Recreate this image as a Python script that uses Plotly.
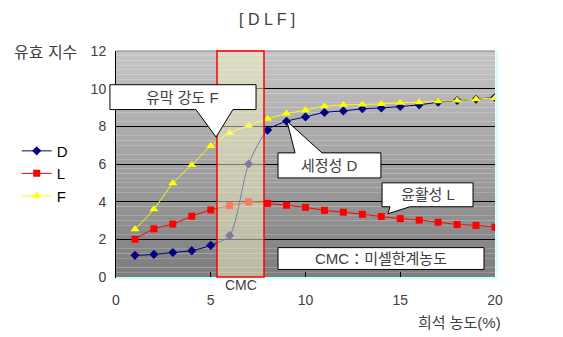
import plotly.graph_objects as go

# ---- data ----
conc = list(range(1, 21))
D_vals = [1.15, 1.2, 1.3, 1.4, 1.68, 2.2, 6.0, 7.8, 8.27, 8.5, 8.74, 8.82, 8.93, 8.98, 9.05, 9.14, 9.28, 9.37, 9.44, 9.54]
L_vals = [2.0, 2.56, 2.81, 3.23, 3.56, 3.79, 3.98, 3.91, 3.81, 3.7, 3.54, 3.44, 3.33, 3.21, 3.1, 3.02, 2.91, 2.79, 2.74, 2.65]
F_vals = [2.53, 3.6, 4.98, 5.95, 6.95, 7.65, 8.05, 8.4, 8.68, 8.86, 9.07, 9.14, 9.16, 9.19, 9.25, 9.28, 9.33, 9.37, 9.44, 9.51]
series_names = ["D", "L", "F"]
x_ticks = [0, 5, 10, 15, 20]
y_ticks = [0, 2, 4, 6, 8, 10, 12]
cmc_range = [5.33, 7.81]

X_MAX, Y_MAX = 20, 12
LATIN = "Liberation Sans, Noto Sans CJK KR, sans-serif"
TXT = "#404040"

fig = go.Figure()

styles = [
    dict(color="#000080", symbol="diamond", size=7),
    dict(color="#ff0000", symbol="square", size=7),
    dict(color="#ffff00", symbol="triangle-up", size=8),
]
for name, vals, st in zip(series_names, [D_vals, L_vals, F_vals], styles):
    fig.add_trace(go.Scatter(
        x=conc, y=vals, name=name, mode="lines+markers",
        line=dict(color=st["color"], width=1, shape="spline", smoothing=0.7),
        marker=dict(color=st["color"], symbol=st["symbol"], size=st["size"], line=dict(width=0)),
    ))

shapes = []
# gradient background bands
n = 48
top = (198, 196, 198)
bot = (126, 126, 126)
for i in range(n):
    t = i / (n - 1)
    c = tuple(int(round(top[k] + (bot[k] - top[k]) * t)) for k in range(3))
    y1 = Y_MAX - i * Y_MAX / n
    y0 = Y_MAX - (i + 1) * Y_MAX / n
    shapes.append(dict(type="rect", xref="x domain", yref="y", x0=0, x1=1, y0=y0, y1=y1,
                       fillcolor="rgb(%d,%d,%d)" % c, line=dict(width=0), layer="below"))

# frame lines
shapes.append(dict(type="line", xref="paper", yref="paper", x0=0, x1=1, y0=1, y1=1,
                   line=dict(color="#808080", width=1), layer="above"))
shapes.append(dict(type="line", xref="paper", yref="paper", x0=1.004, x1=1.004, y0=-0.008, y1=1,
                   line=dict(color="#c8ffff", width=2), layer="above"))
shapes.append(dict(type="line", xref="paper", yref="paper", x0=0, x1=1.006, y0=-0.004, y1=-0.004,
                   line=dict(color="#c8ffff", width=2), layer="above"))

# CMC region
shapes.append(dict(type="rect", xref="x", yref="paper", x0=cmc_range[0], x1=cmc_range[1], y0=0, y1=1,
                   fillcolor="rgba(246,244,196,0.5)", line=dict(color="#ff0000", width=1.5), layer="above"))


def px(x):
    return x / X_MAX


def py(y):
    return y / Y_MAX


def callout(x0, x1, ytop, ybot, b0, b1, tx, ty, where):
    if where == "bottom":
        path = (f"M {px(x0)},{py(ytop)} L {px(x1)},{py(ytop)} L {px(x1)},{py(ybot)} "
                f"L {px(b1)},{py(ybot)} L {px(tx)},{py(ty)} L {px(b0)},{py(ybot)} "
                f"L {px(x0)},{py(ybot)} Z")
    else:
        path = (f"M {px(x0)},{py(ytop)} L {px(b0)},{py(ytop)} L {px(tx)},{py(ty)} "
                f"L {px(b1)},{py(ytop)} L {px(x1)},{py(ytop)} L {px(x1)},{py(ybot)} "
                f"L {px(x0)},{py(ybot)} Z")
    return dict(type="path", xref="paper", yref="paper", path=path,
                fillcolor="white", line=dict(color="black", width=1), layer="above")


shapes.append(callout(-0.32, 7.39, 10.21, 8.89, 4.22, 6.17, 5.28, 7.43, "bottom"))
shapes.append(callout(8.55, 13.98, 6.59, 5.26, 9.45, 10.87, 9.02, 8.28, "top"))
shapes.append(callout(14.04, 18.84, 5.0, 3.73, 14.46, 15.51, 14.35, 3.36, "bottom"))
shapes.append(dict(type="rect", xref="paper", yref="paper", x0=px(8.55), x1=px(19.42), y0=py(0.40), y1=py(1.56),
                   fillcolor="white", line=dict(color="black", width=1), layer="above"))


def label(text, x, y, size=15, xanchor="center"):
    return dict(text=text, x=x, y=y, xref="paper", yref="paper", showarrow=False,
                xanchor=xanchor, yanchor="middle", font=dict(size=size, color=TXT, family=LATIN))


annotations = [
    label("유막 강도 F", px(3.53), py(9.55)),
    label("세정성 D", px(11.27), py(5.92)),
    label("윤활성 L", px(16.44), py(4.37)),
    label("CMC：미셀한계농도", px(13.98), py(0.98)),
    label("CMC", px(sum(cmc_range) / 2), -0.035, size=14),
    label("유효 지수", -0.275, 0.995, size=16, xanchor="left"),
    label("희석 농도(%)", 1.022, -0.2, size=15, xanchor="right"),
    label("[ D L F ]", 0.398, 1.14, size=16),
]

fig.update_layout(
    width=563, height=337,
    margin=dict(l=116, r=68, t=51, b=60),
    paper_bgcolor="white", plot_bgcolor="rgba(0,0,0,0)",
    shapes=shapes, annotations=annotations,
    showlegend=True,
    legend=dict(x=-0.262, xanchor="left", y=0.63, yanchor="top", bgcolor="rgba(0,0,0,0)",
                font=dict(size=15, color="black", family=LATIN), itemwidth=30, tracegroupgap=0),
    xaxis=dict(range=[0, X_MAX], tickvals=x_ticks, showgrid=False, zeroline=False,
               ticks="inside", ticklen=5, tickcolor="black", showline=True, linecolor="black", linewidth=1,
               tickfont=dict(size=14, color=TXT, family=LATIN), ticklabelstandoff=10),
    yaxis=dict(range=[0, Y_MAX], tickvals=y_ticks, showgrid=True, gridcolor="black", gridwidth=1,
               zeroline=False, showline=True, linecolor="black", linewidth=1, ticks="",
               tickfont=dict(size=14, color=TXT, family=LATIN), ticklabelstandoff=6),
)

fig.write_html("out.html")
